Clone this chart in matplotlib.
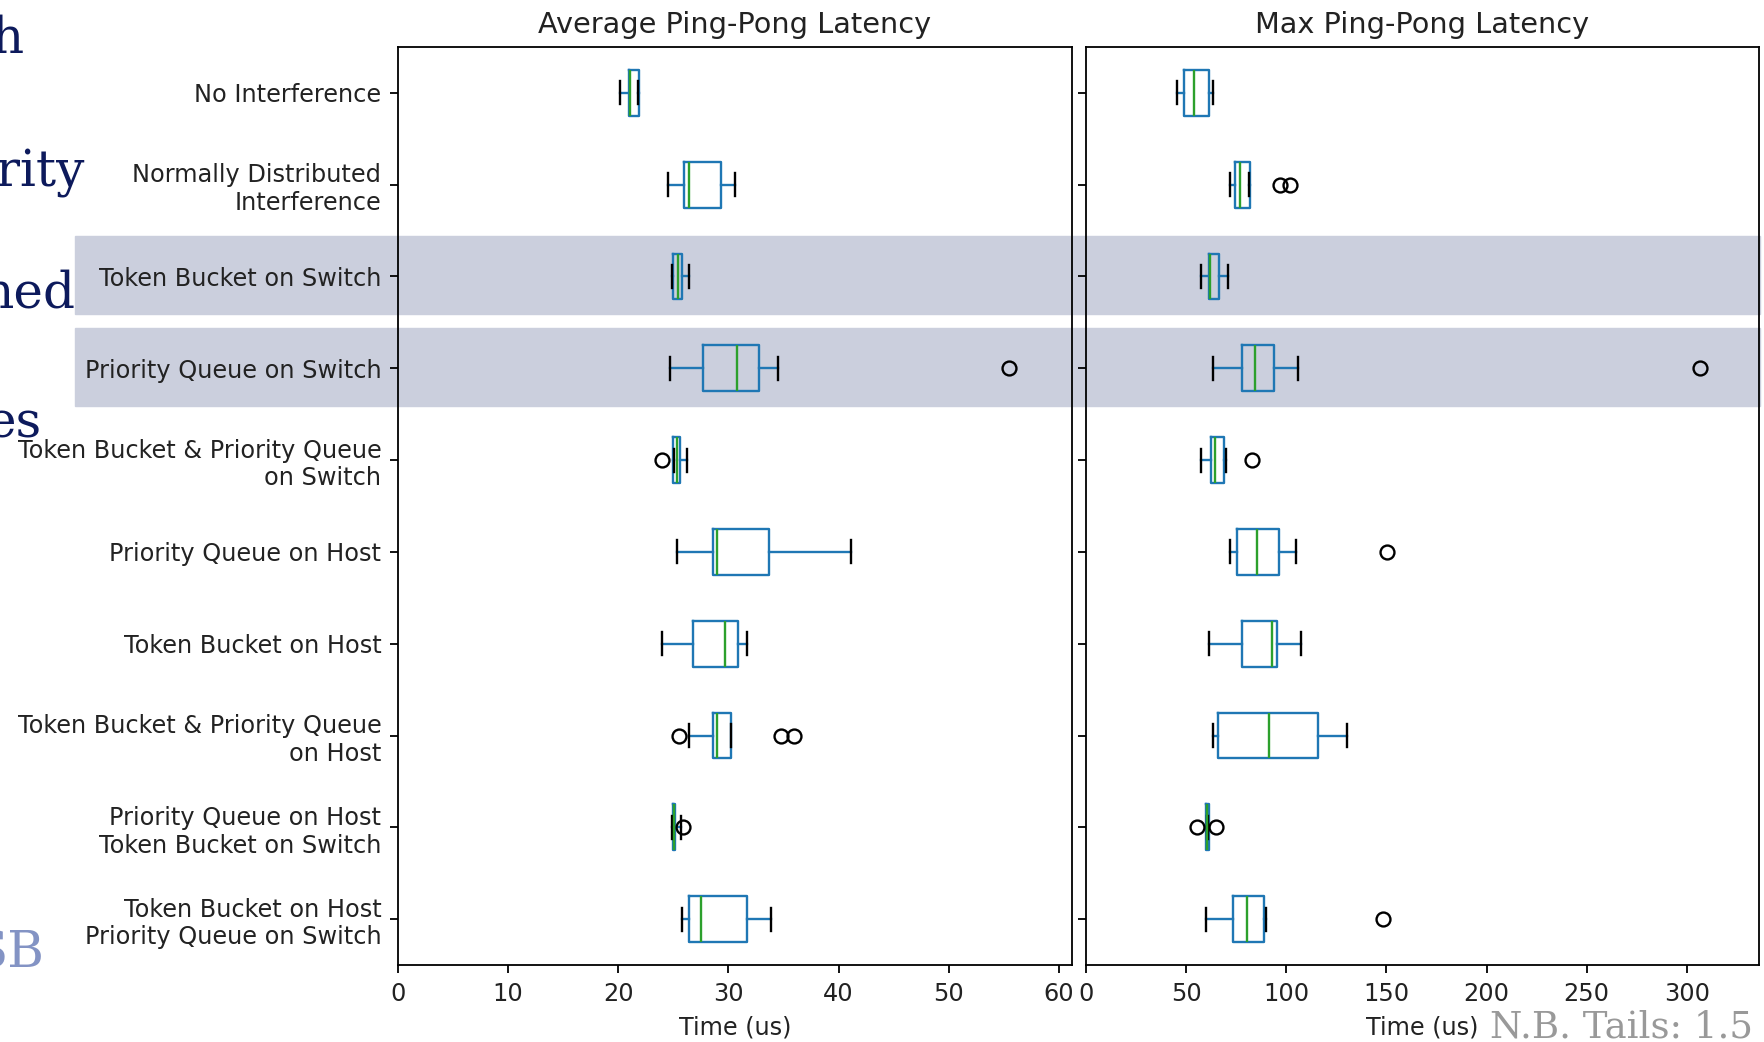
import matplotlib
matplotlib.use('Agg')
import matplotlib.pyplot as plt
from matplotlib.patches import Rectangle

# Versuchsreihen (von oben nach unten)
categories = [
    'No Interference',
    'Normally Distributed\nInterference',
    'Token Bucket on Switch',
    'Priority Queue on Switch',
    'Token Bucket & Priority Queue\non Switch',
    'Priority Queue on Host',
    'Token Bucket on Host',
    'Token Bucket & Priority Queue\non Host',
    'Priority Queue on Host\nToken Bucket on Switch',
    'Token Bucket on Host\nPriority Queue on Switch',
]

# Average Ping-Pong Latency (us)
avg_whislo = [20.2, 24.5, 24.9, 24.7, 25.1, 25.3, 24.0, 26.4, 24.9, 25.8]
avg_q1 = [21.0, 26.0, 25.0, 27.7, 25.0, 28.6, 26.8, 28.6, 24.95, 26.4]
avg_med = [21.1, 26.4, 25.4, 30.8, 25.3, 29.0, 29.7, 29.0, 25.1, 27.5]
avg_q3 = [21.9, 29.3, 25.8, 32.8, 25.6, 33.7, 30.9, 30.2, 25.15, 31.7]
avg_whishi = [21.8, 30.6, 26.4, 34.5, 26.2, 41.1, 31.7, 30.2, 25.7, 33.9]
avg_fliers = [[], [], [], [55.5], [24.0], [], [], [25.5, 34.8, 36.0], [25.9], []]

# Max Ping-Pong Latency (us)
max_whislo = [45.2, 72.1, 57.4, 63.6, 57.4, 72.1, 61.4, 63.6, 60.6, 60.1]
max_q1 = [48.8, 74.3, 61.2, 77.8, 62.3, 75.6, 77.8, 65.9, 59.9, 73.2]
max_med = [54.1, 76.9, 62.1, 84.3, 64.5, 85.6, 92.7, 91.6, 60.3, 80.5]
max_q3 = [61.4, 82.0, 66.5, 94.0, 68.7, 96.5, 95.3, 115.7, 61.2, 89.1]
max_whishi = [63.4, 81.6, 71.0, 106.0, 69.8, 104.9, 107.3, 130.2, 61.0, 89.8]
max_fliers = [[], [96.7, 102.0], [], [306.4], [82.9], [150.3], [], [], [55.2, 65.0], [148.1]]

avg_ticks = [0, 10, 20, 30, 40, 50, 60]
max_ticks = [0, 50, 100, 150, 200, 250, 300]


def make_stats(lo, q1, med, q3, hi, fl):
    return [dict(whislo=a, q1=b, med=c, q3=d, whishi=e, fliers=f)
            for a, b, c, d, e, f in zip(lo, q1, med, q3, hi, fl)]


fig = plt.figure(figsize=(17.65, 10.42), dpi=100)
fig.patch.set_facecolor('white')

# hervorgehobene Zeilen (Folien-Overlay)
for y0, h in [(236, 78), (328, 78)]:
    fig.patches.append(Rectangle((75 / 1765, 1 - (y0 + h) / 1042), (1760 - 75) / 1765, h / 1042,
                                 transform=fig.transFigure, color='#cbcfdd', zorder=-1))

ax1 = fig.add_axes([398 / 1765, 77 / 1042, 674 / 1765, 918 / 1042])
ax2 = fig.add_axes([1086 / 1765, 77 / 1042, 673 / 1765, 918 / 1042])

positions = list(range(1, len(categories) + 1))
box_style = dict(color='#1f77b4', linewidth=1.7)
kw = dict(positions=positions, vert=False, widths=0.5,
          boxprops=box_style, whiskerprops=box_style,
          medianprops=dict(color='#2ca02c', linewidth=1.7),
          capprops=dict(color='k', linewidth=1.7),
          flierprops=dict(marker='o', markerfacecolor='none', markeredgecolor='k',
                          markersize=10, markeredgewidth=1.7))

ax1.bxp(make_stats(avg_whislo, avg_q1, avg_med, avg_q3, avg_whishi, avg_fliers), **kw)
ax2.bxp(make_stats(max_whislo, max_q1, max_med, max_q3, max_whishi, max_fliers), **kw)

for ax, ticks, xmax, title in [(ax1, avg_ticks, 61.2, 'Average Ping-Pong Latency'),
                               (ax2, max_ticks, 336, 'Max Ping-Pong Latency')]:
    ax.set_facecolor('none')
    ax.set_xlim(0, xmax)
    ax.set_ylim(10.5, 0.5)
    ax.set_xticks(ticks)
    ax.set_xticklabels([str(t) for t in ticks])
    ax.set_yticks(positions)
    ax.tick_params(labelsize=17.3, length=6, width=1.3, pad=6, labelcolor='#222222')
    ax.set_xlabel('Time (us)', fontsize=17.3, labelpad=7, color='#222222')
    ax.set_title(title, fontsize=20.7, pad=10, color='#222222')
    for s in ax.spines.values():
        s.set_linewidth(1.3)

ax1.set_yticklabels(categories)
ax2.set_yticklabels([])

# abgeschnittener Folientext
navy = '#0d1a5c'
fig.text(23, 1042 - 53, 'h', transform=None, fontsize=36, family='DejaVu Serif', color=navy, ha='right')
fig.text(85, 1042 - 186, 'ority', transform=None, fontsize=36, family='DejaVu Serif', color=navy, ha='right')
fig.text(75, 1042 - 307, 'med', transform=None, fontsize=36, family='DejaVu Serif', color=navy, ha='right')
fig.text(42, 1042 - 437, 'es', transform=None, fontsize=36, family='DejaVu Serif', color=navy, ha='right')
fig.text(45, 1042 - 968, 'SB', transform=None, fontsize=36, family='DejaVu Serif', color='#8393c4', ha='right')
fig.text(1753, 1042 - 1038, 'N.B. Tails: 1.5', transform=None, fontsize=26.7,
         family='DejaVu Serif', color='#999999', ha='right')

fig.savefig('out.png', dpi=100)
